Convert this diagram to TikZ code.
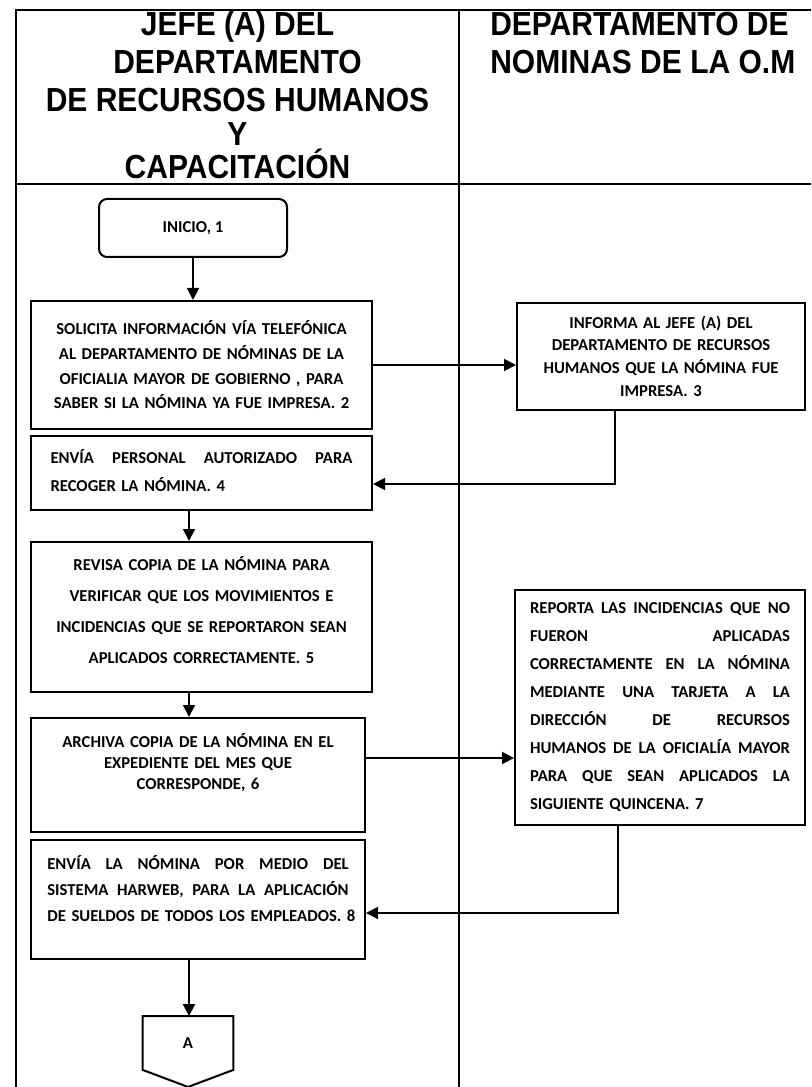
\documentclass[tikz,border=0pt]{standalone}
\usepackage{fontspec}
\setmainfont{Liberation Sans}
\newfontfamily\hdrf[FakeStretch=0.9]{Liberation Sans}
\newfontfamily\bodyf{Carlito}
\usetikzlibrary{arrows.meta,calc}
\newcommand{\bt}[1]{\bodyf\bfseries\fontsize{12.5}{#1}\selectfont}
\newcommand{\jl}[2]{\makebox[#1][s]{\spaceskip=0.3em plus 1fill\relax #2}}
\begin{document}
\begin{tikzpicture}[x=0.75pt,y=-0.75pt,
  lane/.style={line width=2.2pt},
  hdr/.style={font=\hdrf\bfseries\fontsize{25}{30}\selectfont, inner sep=0pt},
  box/.style={draw, line width=1.5pt, inner sep=0pt},
  shapeline/.style={line width=1.5pt},
  arr/.style={line width=1.4pt, -{Triangle[length=9pt,width=9pt]}}]
\fill[white] (0,0) rectangle (811,1087);
\useasboundingbox (0,0) rectangle (811,1087);
% lanes
\draw[lane] (16,1087) -- (16,10) -- (811,10);
\draw[lane] (16,184) -- (811,184);
\draw[lane] (459,10) -- (459,1087);
% headers
\node[hdr, anchor=base] (h1) at (237.5,36) {JEFE (A) DEL};
\node[hdr, anchor=base] (h2) at (237.5,74) {DEPARTAMENTO};
\node[hdr, anchor=base] (h3) at (237.5,112) {DE RECURSOS HUMANOS};
\node[hdr, anchor=base] (h4) at (237.5,146) {Y};
\node[hdr, anchor=base] (h5) at (237.5,179) {CAPACITACIÓN};
\node[hdr, anchor=base west] (r1) at (490,36) {DEPARTAMENTO DE};
\node[hdr, anchor=base west] (r2) at (490,74) {NOMINAS DE LA O.M};
% nodes
\node[box, rounded corners=6pt, minimum width=141pt, minimum height=43.5pt, font=\bt{15}] (n1) at (193,228) {INICIO, 1};
\node[box, minimum width=255.75pt, minimum height=96pt, text width=250pt, align=center, font=\bt{18.5}] (n2) at (201.5,365)
 {SOLICITA INFORMACIÓN VÍA TELEFÓNICA\\AL DEPARTAMENTO DE NÓMINAS DE LA\\OFICIALIA MAYOR DE GOBIERNO , PARA\\SABER SI LA NÓMINA YA FUE IMPRESA. 2};
\node[box, minimum width=216pt, minimum height=80.25pt, text width=210pt, align=center, font=\bt{17}] (n3) at (661,356)
 {INFORMA AL JEFE (A) DEL\\DEPARTAMENTO DE RECURSOS\\HUMANOS QUE LA NÓMINA FUE\\IMPRESA. 3};
\node[box, minimum width=255.75pt, minimum height=55.5pt, text width=226.5pt, align=left, font=\bt{21}] (n4) at (201.5,473)
 {\jl{226.5pt}{ENVÍA PERSONAL AUTORIZADO PARA}\\RECOGER LA NÓMINA. 4\\[-17pt]\mbox{}};
\node[box, minimum width=255.75pt, minimum height=112.5pt, text width=250pt, align=center, font=\bt{23.25}] (n5) at (201.5,617)
 {REVISA COPIA DE LA NÓMINA PARA\\VERIFICAR QUE LOS MOVIMIENTOS E\\INCIDENCIAS QUE SE REPORTARON SEAN\\APLICADOS CORRECTAMENTE. 5\\[-12pt]\mbox{}};
\node[box, minimum width=250.5pt, minimum height=85.5pt, text width=245pt, align=center, font=\bt{16}] (n6) at (198,775)
 {ARCHIVA COPIA DE LA NÓMINA EN EL\\EXPEDIENTE DEL MES QUE\\CORRESPONDE, 6\\[4.25pt]\mbox{}};
\node[box, minimum width=217.5pt, minimum height=176.25pt, text width=195pt, align=left, font=\bt{21}] (n7) at (660,707.5)
 {\jl{195pt}{REPORTA LAS INCIDENCIAS QUE NO}\\
  \jl{195pt}{FUERON APLICADAS}\\
  \jl{195pt}{CORRECTAMENTE EN LA NÓMINA}\\
  \jl{195pt}{MEDIANTE UNA TARJETA A LA}\\
  \jl{195pt}{DIRECCIÓN DE RECURSOS}\\
  \jl{195pt}{HUMANOS DE LA OFICIALÍA MAYOR}\\
  \jl{195pt}{PARA QUE SEAN APLICADOS LA}\\
  SIGUIENTE QUINCENA. 7};
\node[box, minimum width=250.5pt, minimum height=89.25pt, text width=226pt, align=left, font=\bt{19.5}] (n8) at (198,899.5)
 {\jl{226pt}{ENVÍA LA NÓMINA POR MEDIO DEL}\\
  \jl{226pt}{SISTEMA HARWEB, PARA LA APLICACIÓN}\\
  \mbox{DE SUELDOS DE TODOS LOS EMPLEADOS. 8}\\[-2.25pt]\mbox{}};
\node[inner sep=0pt, minimum width=67.5pt, minimum height=40pt, font=\bt{14}] (nA) at (188,1043) {A};
\draw[shapeline] (nA.north west) -- (nA.north east) -- (nA.south east) -- ($(nA.south)+(0,17)$) -- (nA.south west) -- cycle;
% connectors
\coordinate (ax) at (189,0);
\coordinate (c3) at (615,484);
\coordinate (c6) at (0,758);
\coordinate (c7) at (618,913);
\draw[arr] (n1.south) -- (n1.south |- n2.north);
\draw[arr] (n2.east) -- (n2.east -| n3.west);
\draw[arr] (n3.south -| c3) -- (c3) -- (c3 -| n4.east);
\draw[arr] (n4.south -| ax) -- (n5.north -| ax);
\draw[arr] (n5.south -| ax) -- (n6.north -| ax);
\draw[arr] (n6.east |- c6) -- (n7.west |- c6);
\draw[arr] (n7.south -| c7) -- (c7) -- (c7 -| n8.east);
\draw[arr] (n8.south -| ax) -- (nA.north -| ax);
\end{tikzpicture}
\end{document}
